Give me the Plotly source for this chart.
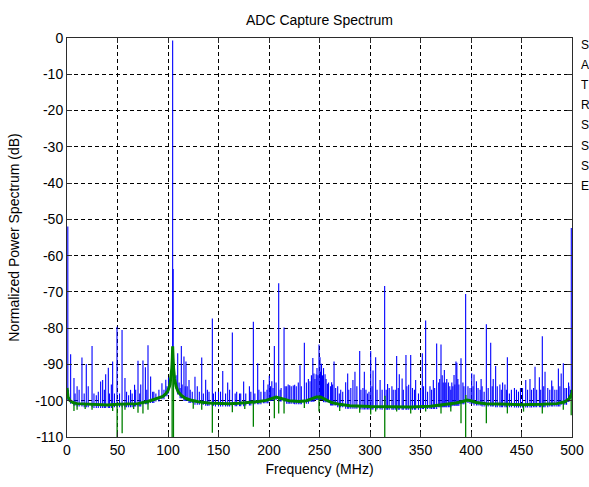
import numpy as np
import plotly.graph_objects as go

# ---------------- data ----------------
# green trace: noise-floor anchors (MHz, dB)
floor_f = [0, 1, 3, 6, 10, 20, 30, 40, 50, 60, 70, 80, 85, 90, 95, 98, 100, 102, 103,
           103.8, 104.3, 104.6, 105, 105.5, 106.5, 108, 110, 113, 117, 122, 130, 140,
           150, 160, 170, 180, 190, 197, 203, 207, 212, 220, 230, 237, 242, 247, 251,
           256, 262, 270, 280, 300, 320, 340, 360, 375, 385, 392, 396, 400, 405, 415,
           430, 450, 470, 485, 493, 497, 499, 500]
floor_db = [-96.5, -99, -100, -100.5, -100.8, -101, -101.2, -101.2, -101, -101, -100.8,
            -100.2, -99.8, -99.4, -98.8, -98, -97.2, -95.5, -93.5, -91, -88, -85, -88,
            -91, -94, -96, -97.5, -98.5, -99.3, -99.8, -100.3, -100.6, -100.8, -100.8,
            -100.7, -100.5, -100.2, -99.9, -99.3, -99, -99.4, -100, -100.2, -100, -99.5,
            -99, -99, -99.6, -100.5, -101, -101.4, -101.6, -101.7, -101.7, -101.5, -101,
            -100.6, -100.2, -99.8, -100, -100.5, -100.8, -101, -101.1, -101, -100.8,
            -100.3, -99.5, -98.5, -98]

# green spikes (dips / small peaks) on the noise floor
gspike_f = [6.9, 10, 18, 24.8, 45.2, 49.6, 54.6, 57.4, 66, 70.3, 75.2, 80.2, 104.1, 105.4,
            125, 133.4, 143.9, 163.7, 176, 184.5, 205.3, 209.6, 214.9, 235, 249.5, 270,
            289.8, 300.7, 305.6, 314.6, 314.8, 326.4, 340.3, 355.1, 370.3, 380, 390.1,
            394.7, 394.9, 415.2, 436, 452, 470.6, 491.4, 499.2, 499.4]
gspike_db = [-102.8, -102.5, -102.3, -102.5, -102.8, -110, -109, -102.5, -102.3, -103.3,
             -103.5, -102.5, -110, -110, -102.2, -102.5, -108.8, -103.2, -102.3, -107.2,
             -104.8, -103.5, -103.5, -102, -103, -102.8, -103.3, -103.8, -103, -110, -98.6,
             -103, -103.5, -103, -103.5, -103, -106.2, -110, -98.4, -106.2, -103.5, -103,
             -103.5, -102.5, -104, -97]

# blue trace: spurs (MHz, dB)
spur_f = [0.8, 3.6, 6.9, 10, 14.8, 19.1, 21, 24.8, 26.7, 33.3, 35.3, 38.3, 40.9, 43.9,
          45.2, 47, 49.5, 54.5, 57.4, 62.9, 64.5, 66.9, 70.3, 73, 75.2, 77.6, 80.2, 82.8,
          84.8, 94, 97.8, 100.5, 104.6, 105.1, 109.6, 113.2, 115.8, 117.8, 120.8, 126.7,
          129, 133.4, 137.3, 140.6, 143.9, 147, 150, 154.2, 159.1, 163.7, 166.5, 170.8,
          174.9, 180.6, 184.5, 188.8, 192, 194.7, 198, 200.3, 202.8, 205.3, 209.6, 212,
          214.9, 217.5, 220.5, 225.4, 230.7, 235, 240.6, 243.4, 246.7, 249.5, 252, 255.5,
          257.8, 262, 264.4, 269.6, 275.9, 277.9, 283.1, 285.1, 289.8, 294.4, 297.6,
          300.7, 303, 305.6, 310, 314.5, 317.4, 321.7, 326.4, 329, 331.8, 335.6, 338.3,
          340.3, 345.2, 348, 351.8, 355.1, 359.4, 362.7, 366, 370.3, 373.6, 375, 377.6,
          380, 383.2, 385.1, 386, 390.1, 394.7, 400.7, 403, 405.4, 410, 413, 415.2, 419.5,
          422, 424.4, 428.6, 431.3, 433.6, 436, 438, 443, 445, 451, 454.2, 458.4, 463.4,
          467.7, 470.6, 473.3, 479.9, 483, 486.5, 489.3, 491.4, 494.6, 496.6, 499.3]
spur_db = [-52, -87.2, -93.7, -96, -88.1, -89.9, -96, -84.9, -98, -94.7, -94.3, -92.7,
           -90.9, -95.5, -89.2, -98, -79.6, -80.5, -93.7, -97, -98, -95.6, -89, -95.5,
           -88.9, -90.8, -84.7, -93.3, -97.5, -95.2, -94.2, -93.6, -0.7, -63.7, -86.9,
           -84.9, -87.8, -89.2, -94.3, -93.4, -96, -88.1, -94.2, -97.5, -77.3, -97.5,
           -97.5, -91.8, -95, -81.2, -98, -98, -94.7, -96, -78.2, -89.7, -97.5, -94.3, -97,
           -93.1, -94.6, -84.9, -67.6, -96.5, -79.8, -96, -95.7, -95.6, -90.2, -84, -94.6,
           -88.2, -92.7, -84.5, -89.8, -92.7, -95.3, -94.9, -89.2, -98, -94.9, -92.5,
           -94.3, -92, -86.3, -92, -98, -86.3, -91.7, -88, -94.3, -68.4, -95.4, -96,
           -87.7, -92.7, -93.9, -87.4, -95.6, -87.4, -94.3, -98, -86.9, -77.9, -96, -94.3,
           -84.2, -84.5, -91.5, -95, -95, -97, -92.9, -89.2, -89.5, -88.3, -70.6, -92.4,
           -92.8, -94.6, -94, -97.5, -78.9, -84, -94, -90.4, -95.5, -95, -95.5, -88, -98,
           -96.5, -97, -96.5, -94.3, -94, -90.6, -93.5, -82.2, -92, -94.4, -97, -91.1,
           -92.5, -89.7, -96.5, -95, -52.4]

# blue trace: low-level spur "grass" just above the floor (MHz, dB)
grass_f = [1.5, 8, 12, 17, 29, 31, 37, 42, 52, 59, 61, 68, 72, 79, 86, 88, 91, 96, 99,
           102, 107, 108, 111, 112, 114, 117, 119, 122, 124, 131, 135, 139, 145, 152, 157,
           161, 168, 172, 177, 182, 186, 190, 196, 199, 201.5, 204, 207, 211, 216, 219,
           222, 224, 227, 229, 232, 237, 239, 242, 244.5, 245.5, 247.5, 248.5, 250.5, 251,
           253, 254, 256.5, 259, 261, 263, 266, 268, 271, 273, 279, 281, 287, 291, 293,
           296, 299, 302, 307, 312, 316, 319, 323, 325, 328, 333, 336.5, 342, 344, 350,
           353, 357, 361, 364, 368, 369, 371.5, 372.5, 376, 379, 381, 382, 384, 387, 388,
           392, 393, 397, 399, 402, 407, 409, 411, 417, 421, 426, 430, 435, 440, 447, 449,
           456, 460, 462, 465, 469, 472, 476, 478, 481, 485, 488, 493, 497, 498.5]
grass_db = [-97, -98, -97, -98, -98.5, -97.5, -97, -98, -98, -97.5, -98.5, -97, -98, -97,
            -97.5, -98, -97, -97, -96, -95, -95, -93, -95, -96.5, -95.5, -96, -96, -97,
            -97.5, -97.5, -98, -97, -98, -97.5, -98, -97, -97.5, -98, -98, -97.5, -98, -97,
            -97.5, -95.5, -96, -96.5, -95, -97, -96, -95.5, -96, -95.8, -96, -95, -96, -95,
            -94, -93, -92.5, -94, -91, -93, -88, -92, -93, -91, -94, -95, -96, -95.5,
            -96.5, -96, -97, -97.5, -97, -96.5, -96, -97, -96.5, -97, -97.5, -96, -97, -97,
            -97, -96.5, -97, -97, -96.5, -97, -96, -96.5, -97, -97, -96, -97.5, -97, -96.5,
            -95, -94, -93, -95, -94, -96, -95, -96, -95.5, -94, -95.5, -95, -96, -96,
            -96.5, -96, -96.5, -97, -96, -96.5, -96, -96, -97, -97, -97, -97.5, -96.5, -97,
            -97, -96.5, -97, -97, -96, -96.5, -97, -96, -97, -96, -96.5, -96, -97]

x_ticks = [0, 50, 100, 150, 200, 250, 300, 350, 400, 450, 500]
y_ticks = [0, -10, -20, -30, -40, -50, -60, -70, -80, -90, -100, -110]
side_letters = ["S", "A", "T", "R", "S", "S", "S", "E"]

title_text = "ADC Capture Spectrum"
x_title = "Frequency (MHz)"
y_title = "Normalized Power Spectrum (dB)"

# ---------------- build vertical line segments ----------------
ff = np.array(floor_f)
fd = np.array(floor_db)


def floor_near(f):
    return float(fd[int(np.argmin(np.abs(ff - f)))])


def segments(freqs, levels, offset=0.0):
    xs, ys = [], []
    for f, v in zip(freqs, levels):
        xs += [f, f, None]
        ys += [floor_near(f) + offset, v, None]
    return xs, ys


bx, by = segments(spur_f + grass_f, spur_db + grass_db, -0.8)
gx, gy = segments(gspike_f, gspike_db)

FONT = "Liberation Sans, Arial, Helvetica, sans-serif"

fig = go.Figure()
fig.add_trace(go.Scatter(x=bx, y=by, mode="lines", line=dict(color="#0000ff", width=1.1),
                         hoverinfo="skip", showlegend=False))
fig.add_trace(go.Scatter(x=floor_f, y=floor_db, mode="lines",
                         line=dict(color="#008000", width=3), showlegend=False))
fig.add_trace(go.Scatter(x=gx, y=gy, mode="lines", line=dict(color="#008000", width=1.3),
                         hoverinfo="skip", showlegend=False))

axis_common = dict(showline=True, linecolor="#2b2b2b", linewidth=1, mirror="ticks",
                   ticks="inside", ticklen=5, tickcolor="#2b2b2b", showgrid=True,
                   gridcolor="#000000", gridwidth=1, griddash="4px,3px", zeroline=False,
                   automargin=False,
                   tickfont=dict(family=FONT, size=14, color="#000000"))

fig.update_layout(
    width=589, height=487, autosize=False,
    margin=dict(l=67, r=17, t=38, b=50),
    paper_bgcolor="white", plot_bgcolor="white",
    title=dict(text=title_text, x=(319.5 / 589), xanchor="center", y=1 - 20 / 487,
               yanchor="middle", font=dict(family=FONT, size=14, color="#000000")),
    xaxis=dict(range=[0, 500], tickvals=x_ticks, ticktext=[str(v) for v in x_ticks],
               title=dict(text=x_title, standoff=7,
                          font=dict(family=FONT, size=14, color="#000000")),
               **axis_common),
    yaxis=dict(range=[-110, 0], tickvals=y_ticks, ticktext=[str(v) for v in y_ticks],
               title=dict(text=y_title, standoff=12,
                          font=dict(family=FONT, size=14, color="#000000")),
               **axis_common),
)

for i, letter in enumerate(side_letters):
    fig.add_annotation(text=letter, xref="paper", yref="paper",
                       x=(578.5 - 67) / 505, y=1 - (45 + 20.1 * i - 38) / 399,
                       xanchor="left", yanchor="middle", showarrow=False,
                       font=dict(family=FONT, size=12, color="#000000"))

fig.write_html(
    "out.html",
    default_width="589px",
    default_height="487px",
    config={"displayModeBar": False},
    post_script="document.body.style.margin='0px';document.body.style.overflow='hidden';",
)
